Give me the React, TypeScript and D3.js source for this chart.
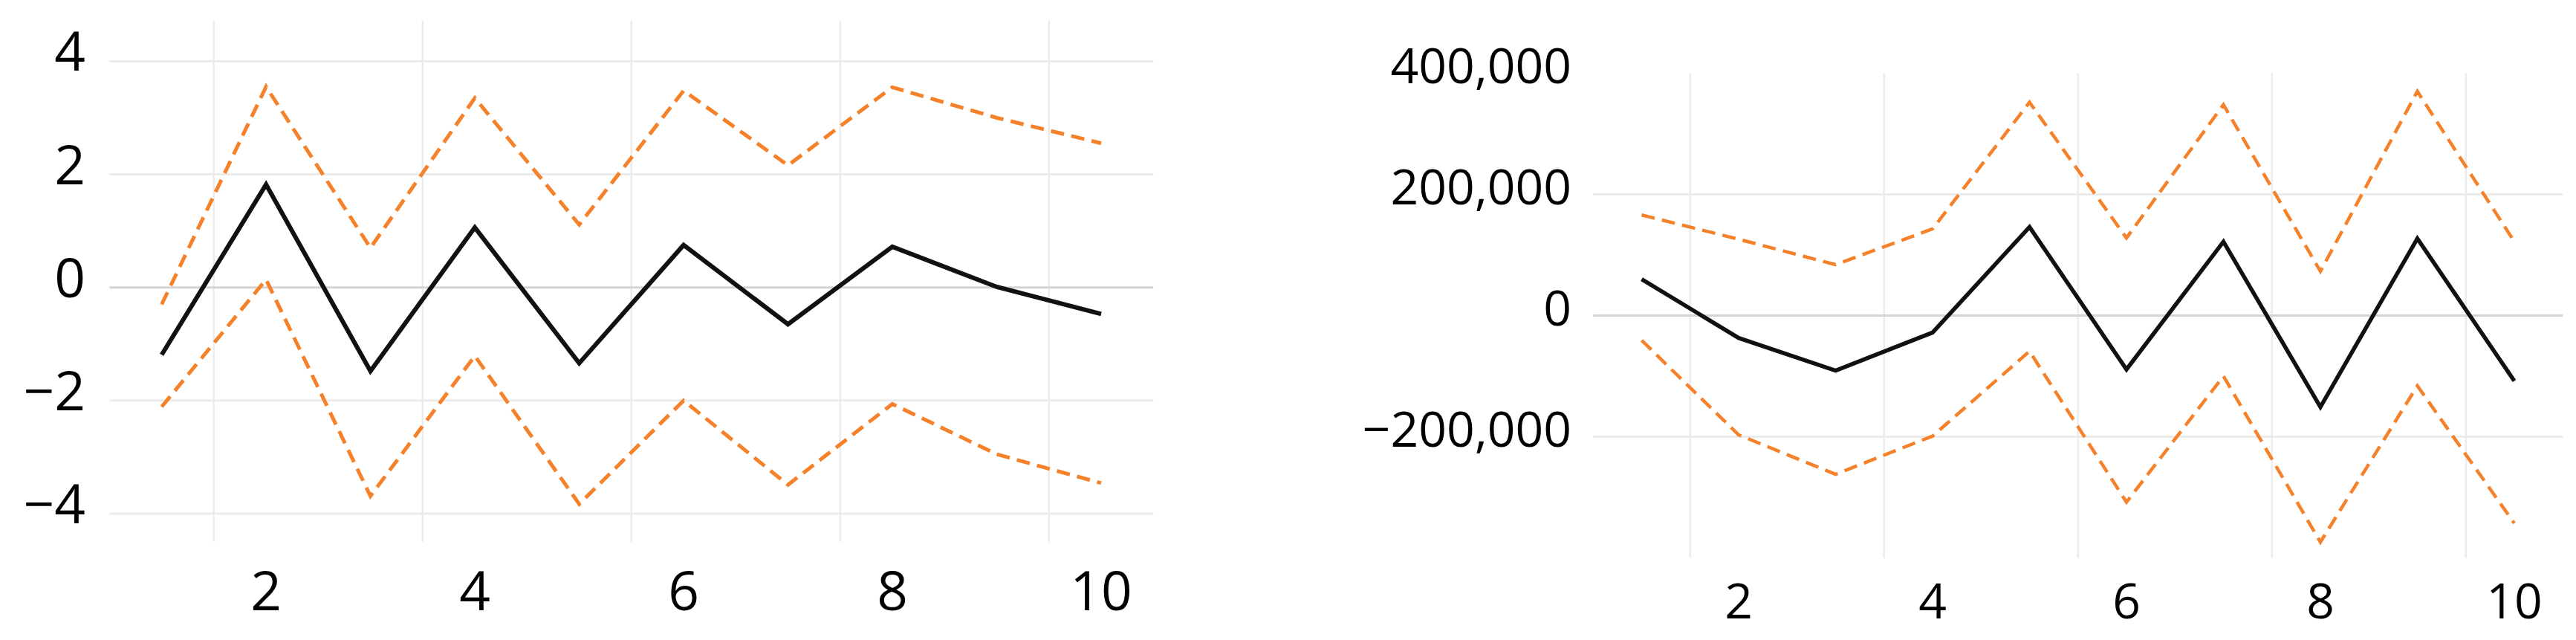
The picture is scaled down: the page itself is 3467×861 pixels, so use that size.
import React from "react";
import { scaleLinear, line, range } from "d3";

// x positions (shared by both panels)
const steps = [1, 2, 3, 4, 5, 6, 7, 8, 9, 10];
const xTicks = [2, 4, 6, 8, 10];

// left panel
const leftMean = [-1.19, 1.82, -1.48, 1.06, -1.34, 0.75, -0.65, 0.72, 0.01, -0.47];
const leftUpper = [-0.3, 3.55, 0.7, 3.35, 1.11, 3.48, 2.16, 3.54, 3.0, 2.55];
const leftLower = [-2.11, 0.14, -3.69, -1.21, -3.83, -2.0, -3.49, -2.06, -2.95, -3.46];
const leftTicks = [4, 2, 0, -2, -4];

// right panel
const rightMean = [60000, -37000, -91000, -28000, 146000, -89000, 122000, -151000, 127000, -108000];
const rightUpper = [166000, 126000, 84000, 143000, 352000, 128000, 348000, 73000, 370000, 122000];
const rightLower = [-41000, -197000, -262000, -199000, -59000, -308000, -100000, -374000, -116000, -343000];
const rightTicks = [400000, 200000, 0, -200000];
const rightGrid = [200000, 0, -200000];

const FONT = "'Open Sans', 'DejaVu Sans', sans-serif";
const ORANGE = "#f5822a";

const fmtLeft = (v: number) => (v < 0 ? "\u2212" + Math.abs(v) : String(v));
const fmtRight = (v: number) =>
  (v < 0 ? "\u2212" : "") + Math.abs(v).toLocaleString("en-US");

type PanelProps = {
  mean: number[];
  upper: number[];
  lower: number[];
  ticks: number[];
  grid: number[];
  fmt: (v: number) => string;
  xRange: [number, number];
  yDomain: [number, number];
  yRange: [number, number];
  vTop: number;
  vBottom: number;
  labelRight: number;
  labelShift: number;
  xLabelY: number;
  fontSize: number;
  meanWidth: number;
  bandWidth: number;
};

function Panel(p: PanelProps) {
  const x = scaleLinear().domain([1, 10]).range(p.xRange);
  const y = scaleLinear().domain(p.yDomain).range(p.yRange);
  const path = line<number>()
    .x((d, i) => x(steps[i]))
    .y((d) => y(d));

  return (
    <g>
      {/* vertical grid sits between the ticks */}
      {range(1.5, 10, 2).map((v) => (
        <line
          key={"v" + v}
          x1={x(v)}
          x2={x(v)}
          y1={y(p.vTop)}
          y2={y(p.vBottom)}
          stroke="#ececec"
          strokeWidth={2.5}
        />
      ))}
      {p.grid.map((v) => (
        <line
          key={"h" + v}
          x1={x(0.5)}
          x2={x(10.5)}
          y1={y(v)}
          y2={y(v)}
          stroke={v === 0 ? "#d4d4d4" : "#ececec"}
          strokeWidth={3}
        />
      ))}
      {p.ticks.map((v) => (
        <text
          key={"t" + v}
          x={p.labelRight}
          y={y(v) + p.labelShift}
          textAnchor="end"
          fontFamily={FONT}
          fontSize={p.fontSize}
          fill="#000"
        >
          {p.fmt(v)}
        </text>
      ))}
      {xTicks.map((v) => (
        <text
          key={"x" + v}
          x={x(v)}
          y={p.xLabelY}
          textAnchor="middle"
          fontFamily={FONT}
          fontSize={p.fontSize}
          fill="#000"
        >
          {v}
        </text>
      ))}
      <path
        d={path(p.upper) || ""}
        fill="none"
        stroke={ORANGE}
        strokeWidth={p.bandWidth}
        strokeDasharray="18,10"
      />
      <path
        d={path(p.lower) || ""}
        fill="none"
        stroke={ORANGE}
        strokeWidth={p.bandWidth}
        strokeDasharray="18,10"
      />
      <path d={path(p.mean) || ""} fill="none" stroke="#111" strokeWidth={p.meanWidth} />
    </g>
  );
}

export default function App() {
  return (
    <svg
      width={3467}
      height={861}
      style={{ position: "absolute", left: 0, top: 0, background: "#fff" }}
    >
      <Panel
        mean={leftMean}
        upper={leftUpper}
        lower={leftLower}
        ticks={leftTicks}
        grid={leftTicks}
        fmt={fmtLeft}
        xRange={[217.6, 1482]}
        yDomain={[-4, 4]}
        yRange={[691, 82.4]}
        vTop={4.72}
        vBottom={-4.5}
        labelRight={115}
        labelShift={13}
        xLabelY={821}
        fontSize={73}
        meanWidth={6}
        bandWidth={5}
      />
      <Panel
        mean={rightMean}
        upper={rightUpper}
        lower={rightLower}
        ticks={rightTicks}
        grid={rightGrid}
        fmt={fmtRight}
        xRange={[2209.5, 3384]}
        yDomain={[-200000, 200000]}
        yRange={[587.5, 261.5]}
        vTop={400000}
        vBottom={-400000}
        labelRight={2115}
        labelShift={13.5}
        xLabelY={832}
        fontSize={66}
        meanWidth={5.5}
        bandWidth={4.5}
      />
    </svg>
  );
}
